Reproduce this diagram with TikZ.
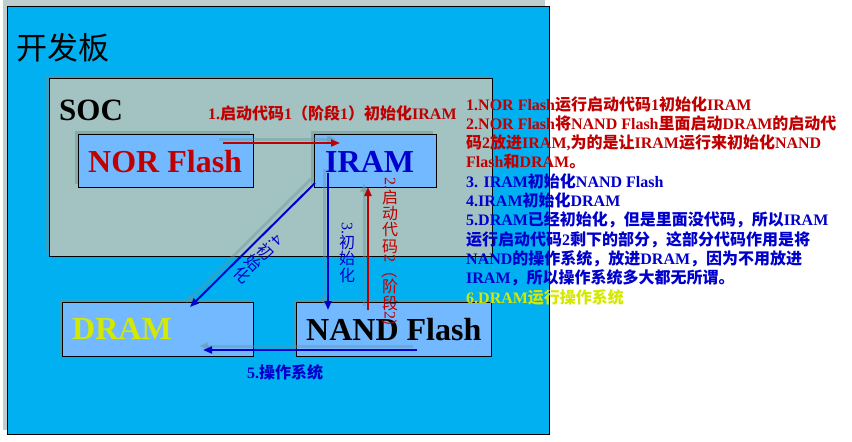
\documentclass[tikz,border=0pt]{standalone}
\usepackage{fontspec}
\setmainfont{Liberation Serif}
\newfontfamily\cjk{Noto Sans CJK SC}
\usetikzlibrary{arrows.meta,shadows}
\definecolor{cyanb}{RGB}{0,176,240}
\definecolor{socg}{RGB}{163,194,194}
\definecolor{boxb}{RGB}{114,185,255}
\definecolor{redt}{RGB}{192,0,0}
\definecolor{bluet}{RGB}{0,0,204}
\definecolor{yelt}{RGB}{212,232,0}
\definecolor{shd}{RGB}{100,150,155}
\definecolor{outg}{RGB}{190,206,206}
\newcommand\zh[1]{{\cjk #1}}
\newcommand\vcj[1]{\hbox to 1em{\hss\vbox to 1.02em{\vss\hbox{\cjk #1}\vss}\hss}}
\newcommand\vrot[1]{\hbox to 1em{\hss\rotatebox{-90}{#1}\hss}}
\begin{document}
\begin{tikzpicture}[x=1pt,y=-1pt,
  boxsh/.style={drop shadow={shadow xshift=-4pt,shadow yshift=4pt,fill=shd,opacity=0.5}},
  box/.style={draw=black,line width=1.2pt,fill=boxb,inner sep=0pt,anchor=north west,boxsh},
  boxtxt/.style={inner sep=0pt,anchor=base west,font=\fontsize{32}{32}\selectfont\bfseries},
  arr/.style={line width=2pt,-{Triangle[length=9pt,width=7pt]}},
  arrsh/.style={line width=3pt,draw=shd,opacity=0.4,-{Triangle[length=9pt,width=8pt]},transform canvas={xshift=-4pt,yshift=4pt}},
  note/.style={inner sep=0pt,anchor=base west,font=\fontsize{16}{16}\selectfont\bfseries},
  vlab/.style={inner sep=0pt,font=\fontsize{16}{16}\selectfont},
]
\useasboundingbox (0,0) rectangle (852,442);
\fill[white] (0,0) rectangle (852,442);
% board with its shadow
\fill[outg] (3,0) rectangle (545,430);
\node[draw=black,line width=1.2pt,fill=cyanb,inner sep=0pt,anchor=north west,
  minimum width=542pt,minimum height=428pt] (board) at (7,6) {};
\node[inner sep=0pt,anchor=base west,font=\fontsize{31}{31}\selectfont\cjk] (boardt) at (16,59) {开发板};
% SOC
\node[draw=black,line width=1.2pt,fill=socg,inner sep=0pt,anchor=north west,
  minimum width=443pt,minimum height=178pt,boxsh] (soc) at (49,78) {};
\node[inner sep=0pt,anchor=base west,font=\fontsize{31}{31}\selectfont\bfseries] (soct) at (59,120) {SOC};
% boxes
\node[box,minimum width=175pt,minimum height=53pt] (nor) at (78,134) {};
\node[box,minimum width=122pt,minimum height=53pt] (iram) at (314,134) {};
\node[box,minimum width=191pt,minimum height=54pt] (dram) at (62,302) {};
\node[box,minimum width=195pt,minimum height=54pt] (nand) at (296,302) {};
\node[boxtxt,text=redt] (nort) at (88,172) {NOR Flash};
\node[boxtxt,text=bluet] (iramt) at (325,172) {IRAM};
\node[boxtxt,text=yelt] (dramt) at (72,339) {DRAM};
\node[boxtxt,text=black] (nandt) at (306,340) {NAND Flash};
% arrow end points
\coordinate (a1s) at (223,143); \coordinate (a1e) at (340,143);
\coordinate (a2s) at (368,310); \coordinate (a2e) at (368,187);
\coordinate (a3s) at (328,173); \coordinate (a3e) at (328,310);
\coordinate (a4s) at (315,183); \coordinate (a4e) at (190,307);
\coordinate (a5s) at (417,350); \coordinate (a5e) at (203,350);
% arrow shadows
\draw[arrsh] (a1s) -- (a1e);
\draw[arrsh] (a2s) -- (a2e);
\draw[arrsh] (a3s) -- (a3e);
\draw[arrsh] (a4s) -- (a4e);
\draw[arrsh] (a5s) -- (a5e);
% arrows
\draw[arr,draw=redt,fill=redt] (a1s) -- (a1e);
\draw[arr,draw=redt,fill=redt] (a2s) -- (a2e);
\draw[arr,draw=bluet,fill=bluet] (a3s) -- (a3e);
\draw[arr,draw=bluet,fill=bluet] (a4s) -- (a4e);
\draw[arr,draw=bluet,fill=bluet] (a5s) -- (a5e);
% labels
\node[note,text=redt] (l1) at (208,119) {1.\zh{启动代码}1\zh{（阶段}1\zh{）初始化}IRAM};
\node[vlab,text=redt,anchor=north] (l2) at (390,177) {\vbox{\offinterlineskip
  \vrot{2.}\vcj{启}\vcj{动}\vcj{代}\vcj{码}\vrot{2}\vrot{\cjk （}\vcj{阶}\vcj{段}\vrot{2}\vrot{\cjk ）}}};
\node[vlab,text=bluet,anchor=north] (l3) at (347,222) {\vbox{\offinterlineskip
  \vrot{3.}\vcj{初}\vcj{始}\vcj{化}}};
\node[vlab,text=bluet,rotate=-45] (l4) at (258,259) {\vbox{\offinterlineskip
  \vrot{4.}\vcj{初}\vcj{始}\vcj{化}}};
\node[note,text=bluet] (l5) at (247,378) {5.\zh{操作系统}};
% notes
\node[note,text=redt] (n1) at (466,110) {1.NOR Flash\zh{运行启动代码}1\zh{初始化}IRAM};
\node[note,text=redt] (n2) at (466,129.3) {2.NOR Flash\zh{将}NAND Flash\zh{里面启动}DRAM\zh{的启动代}};
\node[note,text=redt] (n3) at (466,148.6) {\zh{码}2\zh{放进}IRAM,\zh{为的是让}IRAM\zh{运行来初始化}NAND};
\node[note,text=redt] (n4) at (466,167.9) {Flash\zh{和}DRAM\zh{。}};
\node[note,text=bluet] (n5) at (466,187.2) {3. IRAM\zh{初始化}NAND Flash};
\node[note,text=bluet] (n6) at (466,206.5) {4.IRAM\zh{初始化}DRAM};
\node[note,text=bluet] (n7) at (466,225.8) {5.DRAM\zh{已经初始化，但是里面没代码，所以}IRAM};
\node[note,text=bluet] (n8) at (466,245.1) {\zh{运行启动代码}2\zh{剩下的部分，这部分代码作用是将}};
\node[note,text=bluet] (n9) at (466,264.4) {NAND\zh{的操作系统，放进}DRAM\zh{，因为不用放进}};
\node[note,text=bluet] (n10) at (466,283.7) {IRAM\zh{，所以操作系统多大都无所谓。}};
\node[note,text=yelt] (n11) at (466,303) {6.DRAM\zh{运行操作系统}};
\end{tikzpicture}
\end{document}
